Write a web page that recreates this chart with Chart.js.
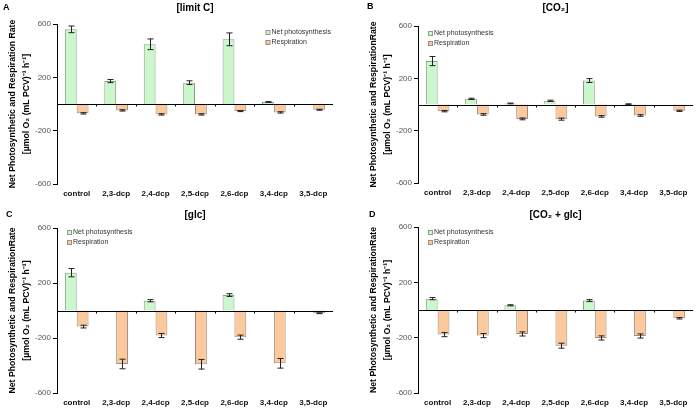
<!DOCTYPE html>
<html>
<head>
<meta charset="utf-8">
<script src="https://cdn.jsdelivr.net/npm/chart.js@4.4.0/dist/chart.umd.min.js"></script>
<style>
  body { margin: 0; background: #fff; }
  #wrap { position: relative; width: 698px; height: 411px; }
  #wrap canvas { position: absolute; }
</style>
</head>
<body>
<div id="wrap">
  <canvas id="chartA" width="349" height="200" style="left:0;top:0"></canvas>
  <canvas id="chartB" width="349" height="200" style="left:349px;top:0"></canvas>
  <canvas id="chartC" width="349" height="211" style="left:0;top:200px"></canvas>
  <canvas id="chartD" width="349" height="211" style="left:349px;top:200px"></canvas>
</div>
<script>
// categories / tick labels
var categories = ['control', '2,3-dcp', '2,4-dcp', '2,5-dcp', '2,6-dcp', '3,4-dcp', '3,5-dcp'];
var seriesNames = ['Net photosynthesis', 'Respiration'];
var yTickValues = [-600, -200, 200, 600];

// A [limit C]
var limitC_net = [560, 172, 448, 160, 485, 15, null];
var limitC_netErr = [25, 12, 40, 14, 48, 3, 0];
var limitC_resp = [-70, -48, -78, -78, -53, -63, -43];
var limitC_respErr = [5, 5, 5, 5, 4, 5, 4];

// B [CO2]
var co2_net = [332, 43, 8, 28, 183, 3, null];
var co2_netErr = [35, 5, 3, 5, 15, 2, 0];
var co2_resp = [-51, -76, -110, -112, -91, -84, -48];
var co2_respErr = [5, 6, 7, 8, 6, 6, 5];

// C [glc]
var glc_net = [275, null, 71, null, 112, null, null];
var glc_netErr = [30, 0, 8, 0, 10, 0, 0];
var glc_resp = [-117, -389, -182, -391, -194, -384, -20];
var glc_respErr = [10, 35, 15, 35, 15, 35, 3];

// D [CO2 + glc]
var co2glc_net = [82, null, 34, null, 68, null, null];
var co2glc_netErr = [8, 0, 4, 0, 7, 0, 0];
var co2glc_resp = [-178, -185, -173, -258, -202, -188, -60];
var co2glc_respErr = [15, 15, 15, 18, 15, 15, 5];

var netFill = '#ccf7cc', netBorder = '#8a9e8a';
var respFill = '#fbc99c', respBorder = '#a08c7c';

// zero line + error bars
var errorBarPlugin = {
  id: 'errorBars',
  afterDatasetsDraw: function(chart) {
    var ctx = chart.ctx, area = chart.chartArea;
    var y = chart.scales.y, x = chart.scales.x;
    var y0 = Math.round(y.getPixelForValue(0)) + 0.5;
    ctx.save();
    ctx.strokeStyle = '#000';
    ctx.lineWidth = 1;
    ctx.beginPath();
    ctx.moveTo(area.left, y0);
    ctx.lineTo(area.right, y0);
    // little ticks between categories
    for (var k = 1; k < categories.length; k++) {
      var xb = Math.round((x.getPixelForValue(k - 1) + x.getPixelForValue(k)) / 2) + 0.5;
      ctx.moveTo(xb, y0);
      ctx.lineTo(xb, y0 + 2);
    }
    ctx.stroke();

    ctx.strokeStyle = '#222';
    chart.data.datasets.forEach(function(ds, i) {
      var meta = chart.getDatasetMeta(i);
      meta.data.forEach(function(bar, j) {
        var v = ds.data[j];
        if (v === null || !ds.errors[j]) return;
        var xc = Math.round(bar.x) + 0.5;
        var yt = y.getPixelForValue(v + ds.errors[j]);
        var yb = y.getPixelForValue(v - ds.errors[j]);
        ctx.beginPath();
        ctx.moveTo(xc, yt); ctx.lineTo(xc, yb);
        ctx.moveTo(xc - 3, yt); ctx.lineTo(xc + 3, yt);
        ctx.moveTo(xc - 3, yb); ctx.lineTo(xc + 3, yb);
        ctx.stroke();
      });
    });
    ctx.restore();
  }
};

// panel letter, title and small legend
var panelTextPlugin = {
  id: 'panelText',
  afterDraw: function(chart) {
    var o = chart.options.plugins.panelText;
    var ctx = chart.ctx, area = chart.chartArea;
    ctx.save();
    ctx.fillStyle = '#000';
    ctx.textBaseline = 'middle';
    ctx.font = 'bold 9px "Liberation Sans", Arial, sans-serif';
    ctx.textAlign = 'left';
    ctx.fillText(o.letter, o.letterX, o.letterY);
    ctx.font = 'bold 10px "Liberation Sans", Arial, sans-serif';
    ctx.textAlign = 'center';
    ctx.fillText(o.title, (area.left + area.right) / 2, o.titleY);

    // legend
    ctx.font = '7px "Liberation Sans", Arial, sans-serif';
    ctx.textAlign = 'left';
    var w = 6 + Math.max(ctx.measureText(seriesNames[0]).width, ctx.measureText(seriesNames[1]).width);
    var lx = o.legendRight ? area.right - w - 2 : area.left + o.legendDx;
    var ly = area.top + o.legendDy;
    chart.data.datasets.forEach(function(ds, i) {
      var yy = ly + i * 10;
      ctx.fillStyle = ds.backgroundColor;
      ctx.fillRect(lx, yy - 2, 4, 4);
      ctx.strokeStyle = ds.borderColor;
      ctx.lineWidth = 1;
      ctx.strokeRect(lx + 0.5, yy - 1.5, 4, 4);
      ctx.fillStyle = '#333';
      ctx.fillText(ds.label, lx + 6, yy + 0.5);
    });
    ctx.restore();
  }
};

function makeChart(id, net, netErr, resp, respErr, p) {
  var canvas = document.getElementById(id);
  return new Chart(canvas, {
    type: 'bar',
    data: {
      labels: categories,
      datasets: [
        { label: seriesNames[0], data: net, errors: netErr, backgroundColor: netFill, borderColor: netBorder, borderWidth: 1 },
        { label: seriesNames[1], data: resp, errors: respErr, backgroundColor: respFill, borderColor: respBorder, borderWidth: 1 }
      ]
    },
    options: {
      responsive: false,
      animation: false,
      devicePixelRatio: 1,
      categoryPercentage: 0.6,
      barPercentage: 1.0,
      layout: { padding: { left: p.left - 57, right: canvas.width - p.right, top: p.top, bottom: 0 } },
      plugins: {
        legend: { display: false },
        tooltip: { enabled: false },
        panelText: p
      },
      scales: {
        x: {
          grid: { display: false, drawTicks: false },
          border: { display: false },
          ticks: { color: '#111', padding: 5, font: { family: '"Liberation Sans", Arial, sans-serif', size: 8, weight: 'bold' } },
          afterFit: function(s) { s.height = canvas.height - p.bottom; }
        },
        y: {
          min: -600,
          max: 600,
          afterBuildTicks: function(s) { s.ticks = yTickValues.map(function(v) { return { value: v }; }); },
          grid: { display: true, drawOnChartArea: false, drawTicks: true, tickLength: 4, color: '#000' },
          border: { display: true, color: '#000', width: 1 },
          ticks: { color: '#555', padding: 2, font: { family: '"Liberation Sans", Arial, sans-serif', size: 8 } },
          title: {
            display: true,
            text: p.yTitle,
            color: '#000',
            padding: { top: 6, bottom: 0 },
            font: { family: '"Liberation Sans", Arial, sans-serif', size: 8.7, weight: 'bold', lineHeight: 1.6 }
          },
          afterFit: function(s) { s.width = 57; }
        }
      }
    },
    plugins: [errorBarPlugin, panelTextPlugin]
  });
}

var unitLine = '[\u00b5mol O\u2082 (mL PCV)\u207b\u00b9 h\u207b\u00b9]';

makeChart('chartA', limitC_net, limitC_netErr, limitC_resp, limitC_respErr, {
  left: 57, right: 333, top: 24, bottom: 184,
  letter: 'A', letterX: 3, letterY: 8, title: '[limit C]', titleY: 8,
  legendRight: true, legendDx: 0, legendDy: 8,
  yTitle: ['Net Photosynthetic and Respiration Rate', unitLine]
});
makeChart('chartB', co2_net, co2_netErr, co2_resp, co2_respErr, {
  left: 69, right: 344, top: 26, bottom: 183,
  letter: 'B', letterX: 18, letterY: 7, title: '[CO\u2082]', titleY: 8,
  legendRight: false, legendDx: 10, legendDy: 7,
  yTitle: ['Net Photosynthetic and RespirationRate', unitLine]
});
makeChart('chartC', glc_net, glc_netErr, glc_resp, glc_respErr, {
  left: 57, right: 333, top: 28, bottom: 193,
  letter: 'C', letterX: 6, letterY: 15, title: '[glc]', titleY: 15,
  legendRight: false, legendDx: 10, legendDy: 4,
  yTitle: ['Net Photosynthetic and RespirationRate', unitLine]
});
makeChart('chartD', co2glc_net, co2glc_netErr, co2glc_resp, co2glc_respErr, {
  left: 69, right: 344, top: 27, bottom: 193,
  letter: 'D', letterX: 20, letterY: 15, title: '[CO\u2082 + glc]', titleY: 15,
  legendRight: false, legendDx: 10, legendDy: 5,
  yTitle: ['Net Photosynthetic and RespirationRate', unitLine]
});
</script>
</body>
</html>
